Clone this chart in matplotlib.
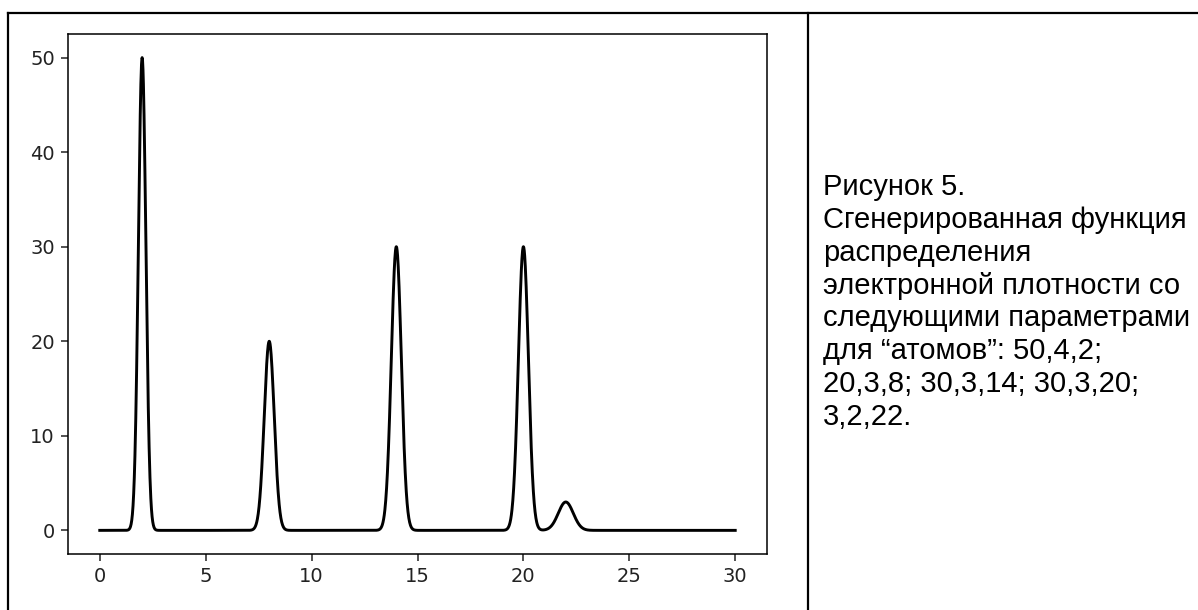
import numpy as np
import matplotlib
matplotlib.use("Agg")
from matplotlib import pyplot as plt
from matplotlib.lines import Line2D

# "atom" parameters from the caption: amplitude, sharpness, centre
amps = [50, 20, 30, 30, 3]
sharp = [4, 3, 3, 3, 2]
centres = [2, 8, 14, 20, 22]

caption = ("Рисунок 5.\n"
           "Сгенерированная функция\n"
           "распределения\n"
           "электронной плотности со\n"
           "следующими параметрами\n"
           "для “атомов”: 50,4,2;\n"
           "20,3,8; 30,3,14; 30,3,20;\n"
           "3,2,22.")

x = np.linspace(0, 30, 3001)
rho = np.zeros_like(x)
for a, b, c in zip(amps, sharp, centres):
    rho += a * np.exp(-(b * (x - c))**2)

W, H = 1198, 610
fig = plt.figure(figsize=(W/100, H/100), dpi=100)

# table-like frame
fig.add_artist(Line2D([8/W, 1], [1 - 13/H, 1 - 13/H], color="black", lw=1.6))
fig.add_artist(Line2D([8/W, 8/W], [0, 1 - 13/H], color="black", lw=1.6))
fig.add_artist(Line2D([808/W, 808/W], [0, 1 - 13/H], color="black", lw=1.6))

ax = fig.add_axes([68/W, 56/H, 699/W, 520/H])
ax.plot(x, rho, color="black", lw=2.1)
ax.set_xticks([0, 5, 10, 15, 20, 25, 30])
ax.set_yticks([0, 10, 20, 30, 40, 50])
ax.tick_params(labelsize=14, length=5, width=1.1, pad=4.5, colors="#222222")
for s in ax.spines.values():
    s.set_linewidth(1.1)

fig.text(823/W, 1 - 173/H, caption, ha="left", va="top",
         fontsize=21, family="Liberation Sans", linespacing=1.22)

fig.savefig("out.png", dpi=100)
